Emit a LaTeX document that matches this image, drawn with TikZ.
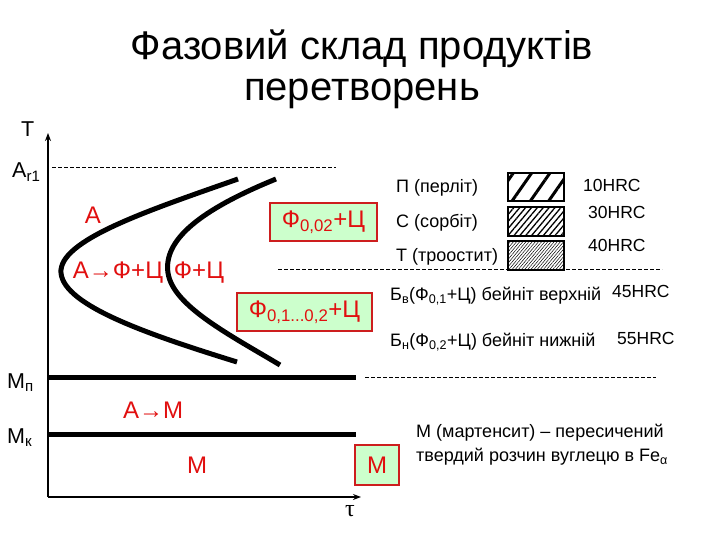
\documentclass[tikz,border=0pt]{standalone}
\usepackage{fontspec}
\setmainfont{Liberation Sans}
\newfontfamily\serifgr{Liberation Serif}
\usetikzlibrary{arrows.meta,patterns.meta}
\definecolor{rtxt}{RGB}{225,15,15}
\definecolor{rbord}{RGB}{205,30,30}
\definecolor{gfill}{RGB}{204,255,204}
\begin{document}
\begin{tikzpicture}[x=1pt,y=-1pt,
  axlbl/.style={inner sep=0pt,anchor=base west,font=\fontsize{21.5}{24}\selectfont},
  rlbl/.style={inner sep=0pt,text=rtxt,font=\fontsize{24}{26}\selectfont},
  phasebox/.style={draw=rbord,line width=2.5pt,fill=gfill,inner sep=0pt},
  txt/.style={inner sep=0pt,anchor=west,font=\fontsize{18}{21}\selectfont},
  hrc/.style={inner sep=0pt,anchor=west,font=\fontsize{17.5}{20}\selectfont},
  dline/.style={line width=0.7pt,dash pattern=on 4pt off 2pt},
  thick line/.style={line width=5pt},
  curve/.style={line width=5pt,line cap=butt},
  axis/.style={line width=2pt,-{Stealth[length=8pt,width=6pt]}},
  legbox/.style={draw,line width=1.5pt}]
\useasboundingbox (0,0) rectangle (720,540);

% title
\node[inner sep=0pt,font=\fontsize{40}{44}\selectfont] (t1) at (362,49) {Фазовий склад продуктів};
\node[inner sep=0pt,font=\fontsize{40}{44}\selectfont] (t2) at (362,94) {перетворень};

% axes
\coordinate (O) at (48,497);
\coordinate (ytop) at (48,133);
\coordinate (xend) at (361,497);
\draw[axis] (O) -- (ytop);
\draw[axis] (O) -- (xend);
\node[inner sep=0pt,font=\fontsize{24}{26}\selectfont\serifgr] (tau) at (350,511) {τ};

% axis labels
\node[axlbl] (T) at (21,137) {Т};
\node[axlbl] (Ar) at (12,178) {A\textsubscript{r1}};
\node[axlbl] (Mp) at (7,388) {М\textsubscript{п}};
\node[axlbl] (Mk) at (7,443) {М\textsubscript{к}};

% dashed levels
\coordinate (d1a) at (52,167); \coordinate (d1b) at (336,167);
\draw[dline] (d1a) -- (d1b);
\coordinate (d2a) at (278,269); \coordinate (d2b) at (662,269);
\draw[dline] (d2a) -- (d2b);
\coordinate (d3a) at (365,377); \coordinate (d3b) at (656,377);
\draw[dline] (d3a) -- (d3b);

% martensite lines
\coordinate (mp1) at (48,377); \coordinate (mp2) at (356,377);
\draw[thick line] (mp1) -- (mp2);
\coordinate (mk1) at (48,434); \coordinate (mk2) at (356,434);
\draw[thick line] (mk1) -- (mk2);

% C-curves
\draw[curve] (238,179) .. controls (150,210) and (58,240) .. (61,273)
             .. controls (64,306) and (150,335) .. (237,362);
\draw[curve] (276,179) .. controls (200,210) and (163,240) .. (168,273)
             .. controls (173,306) and (230,335) .. (280,365);

% red labels
\node[rlbl] (A) at (93,215) {А};
\node[rlbl] (AFC) at (118,273) {А→Ф+Ц};
\node[rlbl] (FC) at (199,273) {Ф+Ц};
\node[rlbl] (AM) at (153,410) {А→М};
\node[rlbl] (M1) at (197,465) {М};

% phase boxes
\node[phasebox,minimum width=107pt,minimum height=38pt] (b1) at (323.5,222) {};
\node[rlbl] at (b1) {Ф\textsubscript{0,02}+Ц};
\node[phasebox,minimum width=135pt,minimum height=38pt] (b2) at (304.5,312) {};
\node[rlbl] at (b2) {Ф\textsubscript{0,1...0,2}+Ц};
\node[phasebox,minimum width=44pt,minimum height=40pt] (b3) at (377,465) {};
\node[rlbl] at (b3) {М};

% legend
\node[txt] (P) at (396,188) {П (перліт)};
\node[txt] (S) at (396,223) {С (сорбіт)};
\node[txt] (Tr) at (396,257) {Т (троостит)};
\draw[legbox,pattern={Lines[angle=55,distance=15pt,line width=3pt]}] (508,173) rectangle (564,201);
\draw[legbox,pattern={Lines[angle=50,distance=4.5pt,line width=1.3pt]}] (508,207) rectangle (564,236);
\draw[legbox,pattern={Lines[angle=50,distance=2.4pt,line width=0.5pt]}] (508,241) rectangle (564,270);
\node[hrc] (h10) at (583,185) {10HRC};
\node[hrc] (h30) at (588,212) {30HRC};
\node[hrc] (h40) at (588,245) {40HRC};

% bainite
\node[txt] (Bv) at (390,296) {Б\textsubscript{в}(Ф\textsubscript{0,1}+Ц) бейніт верхній};
\node[hrc] (h45) at (612,291) {45HRC};
\node[txt] (Bn) at (390,342) {Б\textsubscript{н}(Ф\textsubscript{0,2}+Ц) бейніт нижній};
\node[hrc] (h55) at (617,338) {55HRC};

% martensite description
\node[txt] (Md1) at (416,433) {М (мартенсит) – пересичений};
\node[txt] (Md2) at (416,457) {твердий розчин вуглецю в Fe\textsubscript{α}};
\end{tikzpicture}
\end{document}
